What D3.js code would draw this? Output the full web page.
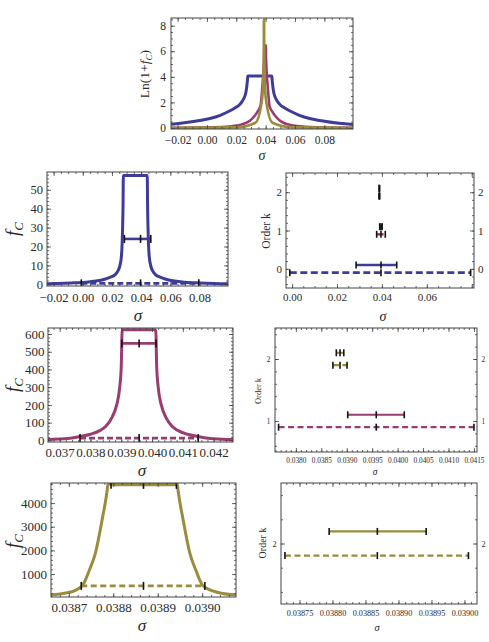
<!DOCTYPE html>
<html>
<head>
<meta charset="utf-8">
<script src="https://cdn.jsdelivr.net/npm/d3@7"></script>
<style>
  body { margin: 0; background: #fff; }
  text { font-family: "Liberation Serif", "Times New Roman", serif; fill: #2a2a2a; }
</style>
</head>
<body>
<svg id="fig" width="489" height="642"></svg>
<script>
// ---- curves f_C(sigma) ----
var sigmaBlue = [-0.028, -0.018, -0.008, 0.002, 0.009, 0.015, 0.019, 0.022, 0.024, 0.0255, 0.0265, 0.0270, 0.0273, 0.0276, 0.0278,
                 0.0442, 0.0444, 0.0447, 0.0450, 0.0455, 0.0465, 0.0480, 0.0500, 0.0530, 0.0570, 0.0630, 0.0700, 0.0800, 0.0900, 0.1050];
var fcBlue = [0.3, 0.45, 0.7, 1.1, 1.7, 2.7, 3.8, 5.0, 7.0, 10, 15, 22, 30, 42, 57.5,
              57.5, 42, 30, 22, 15, 10, 7, 5.0, 3.8, 2.7, 1.7, 1.1, 0.7, 0.45, 0.27];

var sigmaRed = [-0.025, 0.01, 0.02, 0.028, 0.032, 0.0345, 0.03662, 0.0370, 0.0374, 0.0377, 0.0380, 0.0383, 0.0385, 0.0387, 0.03885, 0.03895, 0.0390, 0.03903,
                0.04012, 0.04015, 0.0402, 0.0403, 0.04045, 0.04065, 0.04085, 0.04115, 0.04145, 0.04175, 0.04215, 0.04263, 0.0445, 0.047, 0.051, 0.059, 0.07, 0.1015];
var fcRed = [0.02, 0.08, 0.2, 0.6, 1.4, 2.6, 5, 8, 14, 23, 35, 55, 80, 130, 200, 300, 420, 624,
             624, 420, 300, 200, 130, 80, 55, 35, 23, 14, 8, 4.5, 2.6, 1.4, 0.6, 0.2, 0.08, 0.02];

var sigmaOlive = [-0.025, 0.02, 0.033, 0.0375, 0.03864, 0.03870, 0.03873, 0.038746, 0.03876, 0.038775, 0.038786, 0.038788,
                  0.038944, 0.038946, 0.038957, 0.038972, 0.038986, 0.039002, 0.039036, 0.039072, 0.0391, 0.0402, 0.0447, 0.058, 0.1015];
var fcOlive = [0.005, 0.05, 0.5, 8, 105, 220, 500, 1150, 1900, 3300, 4500, 4794,
               4794, 4500, 3300, 1900, 1150, 500, 220, 120, 100, 8, 0.5, 0.05, 0.005];

// ---- error bars, one entry per order k ----
var orders = [0, 1, 2];
var orderColors = ["#3d3d99", "#993d71", "#998c3d"];
var solidLo = [0.0285, 0.03902, 0.038795];
var solidMid = [0.0396, 0.03958, 0.038868];
var solidHi = [0.0466, 0.04013, 0.038942];
var solidFc = [24, 547, 4770];
var dashLo = [-0.001, 0.03766, 0.038728];
var dashMid = [0.0396, 0.03958, 0.038868];
var dashHi = [0.0795, 0.0415, 0.039006];
var dashFc = [0.5, 13, 500];

// ---- tick labels ----
var ticksSigmaWide = [-0.02, 0, 0.02, 0.04, 0.06, 0.08];
var ticksLn = [0, 2, 4, 6, 8];
var ticksFcBlue = [0, 10, 20, 30, 40, 50];
var ticksSigmaK0 = [0, 0.02, 0.04, 0.06];
var ticksK0 = [0, 1, 2];
var ticksSigmaRed = [0.037, 0.038, 0.039, 0.040, 0.041, 0.042];
var ticksFcRed = [0, 100, 200, 300, 400, 500, 600];
var ticksSigmaK1 = [0.0380, 0.0385, 0.0390, 0.0395, 0.0400, 0.0405, 0.0410, 0.0415];
var ticksK1 = [1, 2];
var ticksSigmaOlive = [0.0387, 0.0388, 0.0389, 0.0390];
var ticksFcOlive = [1000, 2000, 3000, 4000];
var ticksSigmaK2 = [0.03875, 0.03880, 0.03885, 0.03890, 0.03895, 0.03900];
var ticksK2 = [2];

var svg = d3.select("#fig");
var clipCount = 0;

function minorTicks(dom, step) {
  var a = Math.ceil(dom[0] / step - 1e-6), b = Math.floor(dom[1] / step + 1e-6);
  return d3.range(a, b + 1).map(function(i) { return i * step; });
}

// frame with inward ticks on all four sides, mathematica style
function makePanel(p) {
  var x = d3.scaleLinear().domain(p.xDom).range([p.l, p.r]);
  var y = d3.scaleLinear().domain(p.yDom).range([p.b, p.t]);
  var id = "clip" + (clipCount++);
  svg.append("clipPath").attr("id", id).append("rect")
    .attr("x", p.l).attr("y", p.t).attr("width", p.r - p.l).attr("height", p.b - p.t);
  var plot = svg.append("g").attr("clip-path", "url(#" + id + ")");
  var ax = svg.append("g");
  var none = function() { return ""; };

  function side(gen, tr, vals, len, fmt, pad) {
    var g = ax.append("g").attr("transform", tr)
      .call(gen.tickValues(vals).tickSize(-len).tickPadding(pad).tickFormat(fmt));
    g.attr("font-family", null).attr("font-size", p.fs);
    g.select(".domain").remove();
    g.selectAll("line").attr("stroke", "#444").attr("stroke-width", 0.8);
    g.selectAll("text").style("fill", "#2a2a2a");
  }

  var xMin = minorTicks(p.xDom, p.xMinor), yMin = minorTicks(p.yDom, p.yMinor);
  var xMaj = minorTicks(p.xDom, p.xMajor), yMaj = minorTicks(p.yDom, p.yMajor);
  var xf = d3.format(p.xFmt), yf = d3.format(p.yFmt);

  side(d3.axisBottom(x), "translate(0," + p.b + ")", xMin, 2, none, 0);
  side(d3.axisBottom(x), "translate(0," + p.b + ")", xMaj, 4, none, 0);
  side(d3.axisBottom(x), "translate(0," + p.b + ")", p.xTicks, 0, xf, p.xPad);
  side(d3.axisTop(x), "translate(0," + p.t + ")", xMin, 2, none, 0);
  side(d3.axisTop(x), "translate(0," + p.t + ")", xMaj, 4, none, 0);
  side(d3.axisLeft(y), "translate(" + p.l + ",0)", yMin, 2, none, 0);
  side(d3.axisLeft(y), "translate(" + p.l + ",0)", yMaj, 4, none, 0);
  side(d3.axisLeft(y), "translate(" + p.l + ",0)", p.yTicks, 0, yf, p.yPad);
  side(d3.axisRight(y), "translate(" + p.r + ",0)", yMin, 2, none, 0);
  side(d3.axisRight(y), "translate(" + p.r + ",0)", yMaj, 4, none, 0);
  if (p.rightLabels) side(d3.axisRight(y), "translate(" + p.r + ",0)", p.yTicks, 0, yf, p.yPad);

  ax.append("rect").attr("x", p.l).attr("y", p.t)
    .attr("width", p.r - p.l).attr("height", p.b - p.t)
    .attr("fill", "none").attr("stroke", "#444").attr("stroke-width", 1);

  return { x: x, y: y, plot: plot };
}

function drawCurve(P, sig, fc, color, w, tf) {
  var line = d3.line()
    .x(function(d) { return P.x(d[0]); })
    .y(function(d) { return P.y(tf ? tf(d[1]) : d[1]); })
    .curve(d3.curveMonotoneX);
  P.plot.append("path").datum(d3.zip(sig, fc))
    .attr("d", line).attr("fill", "none")
    .attr("stroke", color).attr("stroke-width", w)
    .attr("stroke-linejoin", "round");
}

function drawBar(P, yPos, lo, mid, hi, color, w, dash, tickH) {
  P.plot.append("line")
    .attr("x1", P.x(lo)).attr("x2", P.x(hi)).attr("y1", yPos).attr("y2", yPos)
    .attr("stroke", color).attr("stroke-width", w)
    .attr("stroke-dasharray", dash);
  [lo, mid, hi].forEach(function(v) {
    P.plot.append("line")
      .attr("x1", P.x(v)).attr("x2", P.x(v))
      .attr("y1", yPos - tickH / 2).attr("y2", yPos + tickH / 2)
      .attr("stroke", "#111").attr("stroke-width", 1.6);
  });
}

// text with italic f and subscript C
function fcText(t, fs, pre, post) {
  if (pre) t.append("tspan").text(pre);
  t.append("tspan").style("font-style", "italic").text("f");
  t.append("tspan").style("font-style", "italic").attr("font-size", fs * 0.68).attr("dy", fs * 0.22).text("C");
  if (post) t.append("tspan").attr("dy", -fs * 0.22).text(post);
}

function yTitle(cx, cy, fs) {
  return svg.append("text")
    .attr("transform", "translate(" + cx + "," + cy + ") rotate(-90)")
    .attr("text-anchor", "middle").attr("dy", "0.35em").attr("font-size", fs);
}

function sigmaTitle(cx, cy, fs) {
  svg.append("text").attr("x", cx).attr("y", cy)
    .attr("text-anchor", "middle").attr("font-size", fs)
    .style("font-style", "italic").text("σ");
}

var lnf = function(v) { return Math.log(1 + v); };

// ---- top: Ln(1+fC) ----
var p1 = makePanel({ l: 171, r: 353, t: 18, b: 129, xDom: [-0.0245, 0.0995], yDom: [-0.08, 8.6],
  xTicks: ticksSigmaWide, yTicks: ticksLn, xMajor: 0.02, xMinor: 0.005, yMajor: 2, yMinor: 0.5,
  xFmt: ".2f", yFmt: "d", fs: 11.5, xPad: 7, yPad: 5 });
drawCurve(p1, sigmaBlue, fcBlue, orderColors[0], 3, lnf);
drawCurve(p1, sigmaRed, fcRed, orderColors[1], 2.6, lnf);
drawCurve(p1, sigmaOlive, fcOlive, orderColors[2], 2.6, lnf);
fcText(yTitle(144, 74, 13.5), 13.5, "Ln(1+", ")");
sigmaTitle(262, 160, 14);

// ---- order 0 (blue) ----
var p2 = makePanel({ l: 47, r: 228, t: 172, b: 286, xDom: [-0.0245, 0.0995], yDom: [-0.9, 59.4],
  xTicks: ticksSigmaWide, yTicks: ticksFcBlue, xMajor: 0.02, xMinor: 0.005, yMajor: 10, yMinor: 2,
  xFmt: ".2f", yFmt: "d", fs: 12.5, xPad: 7, yPad: 4 });
drawCurve(p2, sigmaBlue, fcBlue, orderColors[0], 3, null);
drawBar(p2, p2.y(solidFc[0]), solidLo[0], solidMid[0], solidHi[0], orderColors[0], 2.6, null, 8);
drawBar(p2, p2.y(dashFc[0]), dashLo[0], dashMid[0], dashHi[0], orderColors[0], 2.6, "6,3", 8);
fcText(yTitle(12, 229, 19), 19);
sigmaTitle(138, 321, 17);

var p3 = makePanel({ l: 286, r: 474, t: 173, b: 288, xDom: [-0.0027, 0.081], yDom: [-0.5, 2.5],
  xTicks: ticksSigmaK0, yTicks: ticksK0, xMajor: 0.02, xMinor: 0.005, yMajor: 1, yMinor: 0.2,
  xFmt: ".2f", yFmt: "d", fs: 11, xPad: 5.5, yPad: 4, rightLabels: true });
orders.forEach(function(k, i) {
  drawBar(p3, p3.y(k + 0.1), solidLo[i], solidMid[i], solidHi[i], orderColors[i], 2.4, null, 7);
  drawBar(p3, p3.y(k - 0.1), dashLo[i], dashMid[i], dashHi[i], orderColors[i], 2.6, "7,3.5", 7);
});
yTitle(266, 231, 11.5).text("Order k");
sigmaTitle(383, 321, 14);

// ---- order 1 (red) ----
var p4 = makePanel({ l: 48, r: 233, t: 328, b: 442, xDom: [0.03662, 0.04263], yDom: [-9, 634],
  xTicks: ticksSigmaRed, yTicks: ticksFcRed, xMajor: 0.001, xMinor: 0.0002, yMajor: 100, yMinor: 20,
  xFmt: ".3f", yFmt: "d", fs: 13, xPad: 6, yPad: 3.5 });
drawCurve(p4, sigmaRed, fcRed, orderColors[1], 3, null);
drawBar(p4, p4.y(solidFc[1]), solidLo[1], solidMid[1], solidHi[1], orderColors[1], 2.6, null, 8);
drawBar(p4, p4.y(dashFc[1]), dashLo[1], dashMid[1], dashHi[1], orderColors[1], 2.6, "6,3", 8);
fcText(yTitle(12, 385, 19), 19);
sigmaTitle(142, 476, 17);

var p5 = makePanel({ l: 275, r: 477, t: 328, b: 452, xDom: [0.03759, 0.04156], yDom: [0.5, 2.5],
  xTicks: ticksSigmaK1, yTicks: ticksK1, xMajor: 0.0005, xMinor: 0.0001, yMajor: 1, yMinor: 0.2,
  xFmt: ".4f", yFmt: "d", fs: 7.3, xPad: 6, yPad: 4.5, rightLabels: true });
orders.forEach(function(k, i) {
  drawBar(p5, p5.y(k + 0.1), solidLo[i], solidMid[i], solidHi[i], orderColors[i], 2, null, 7);
  drawBar(p5, p5.y(k - 0.1), dashLo[i], dashMid[i], dashHi[i], orderColors[i], 2.2, "6,3.5", 7);
});
yTitle(258, 391, 8.5).text("Order k");
sigmaTitle(375, 475, 9.5);

// ---- order 2 (olive) ----
var p6 = makePanel({ l: 51, r: 236, t: 483, b: 597, xDom: [0.03866, 0.039076], yDom: [30, 4849],
  xTicks: ticksSigmaOlive, yTicks: ticksFcOlive, xMajor: 0.0001, xMinor: 0.00002, yMajor: 1000, yMinor: 200,
  xFmt: ".4f", yFmt: "d", fs: 13, xPad: 5.5, yPad: 4 });
drawCurve(p6, sigmaOlive, fcOlive, orderColors[2], 3, null);
drawBar(p6, p6.y(solidFc[2]), solidLo[2], solidMid[2], solidHi[2], orderColors[2], 2.6, null, 8);
drawBar(p6, p6.y(dashFc[2]), dashLo[2], dashMid[2], dashHi[2], orderColors[2], 2.6, "6,3.5", 8);
fcText(yTitle(12, 541, 19), 19);
sigmaTitle(142, 631, 17);

var p7 = makePanel({ l: 281, r: 477, t: 483, b: 604, xDom: [0.038722, 0.039019], yDom: [1.5, 2.5],
  xTicks: ticksSigmaK2, yTicks: ticksK2, xMajor: 0.00005, xMinor: 0.00001, yMajor: 1, yMinor: 0.2,
  xFmt: ".5f", yFmt: "d", fs: 8.2, xPad: 6, yPad: 4.5, rightLabels: true });
orders.forEach(function(k, i) {
  drawBar(p7, p7.y(k + 0.1), solidLo[i], solidMid[i], solidHi[i], orderColors[i], 2.2, null, 7);
  drawBar(p7, p7.y(k - 0.1), dashLo[i], dashMid[i], dashHi[i], orderColors[i], 2.4, "6,3.5", 7);
});
yTitle(262, 543, 10).text("Order k");
sigmaTitle(377, 631, 10.5);
</script>
</body>
</html>
